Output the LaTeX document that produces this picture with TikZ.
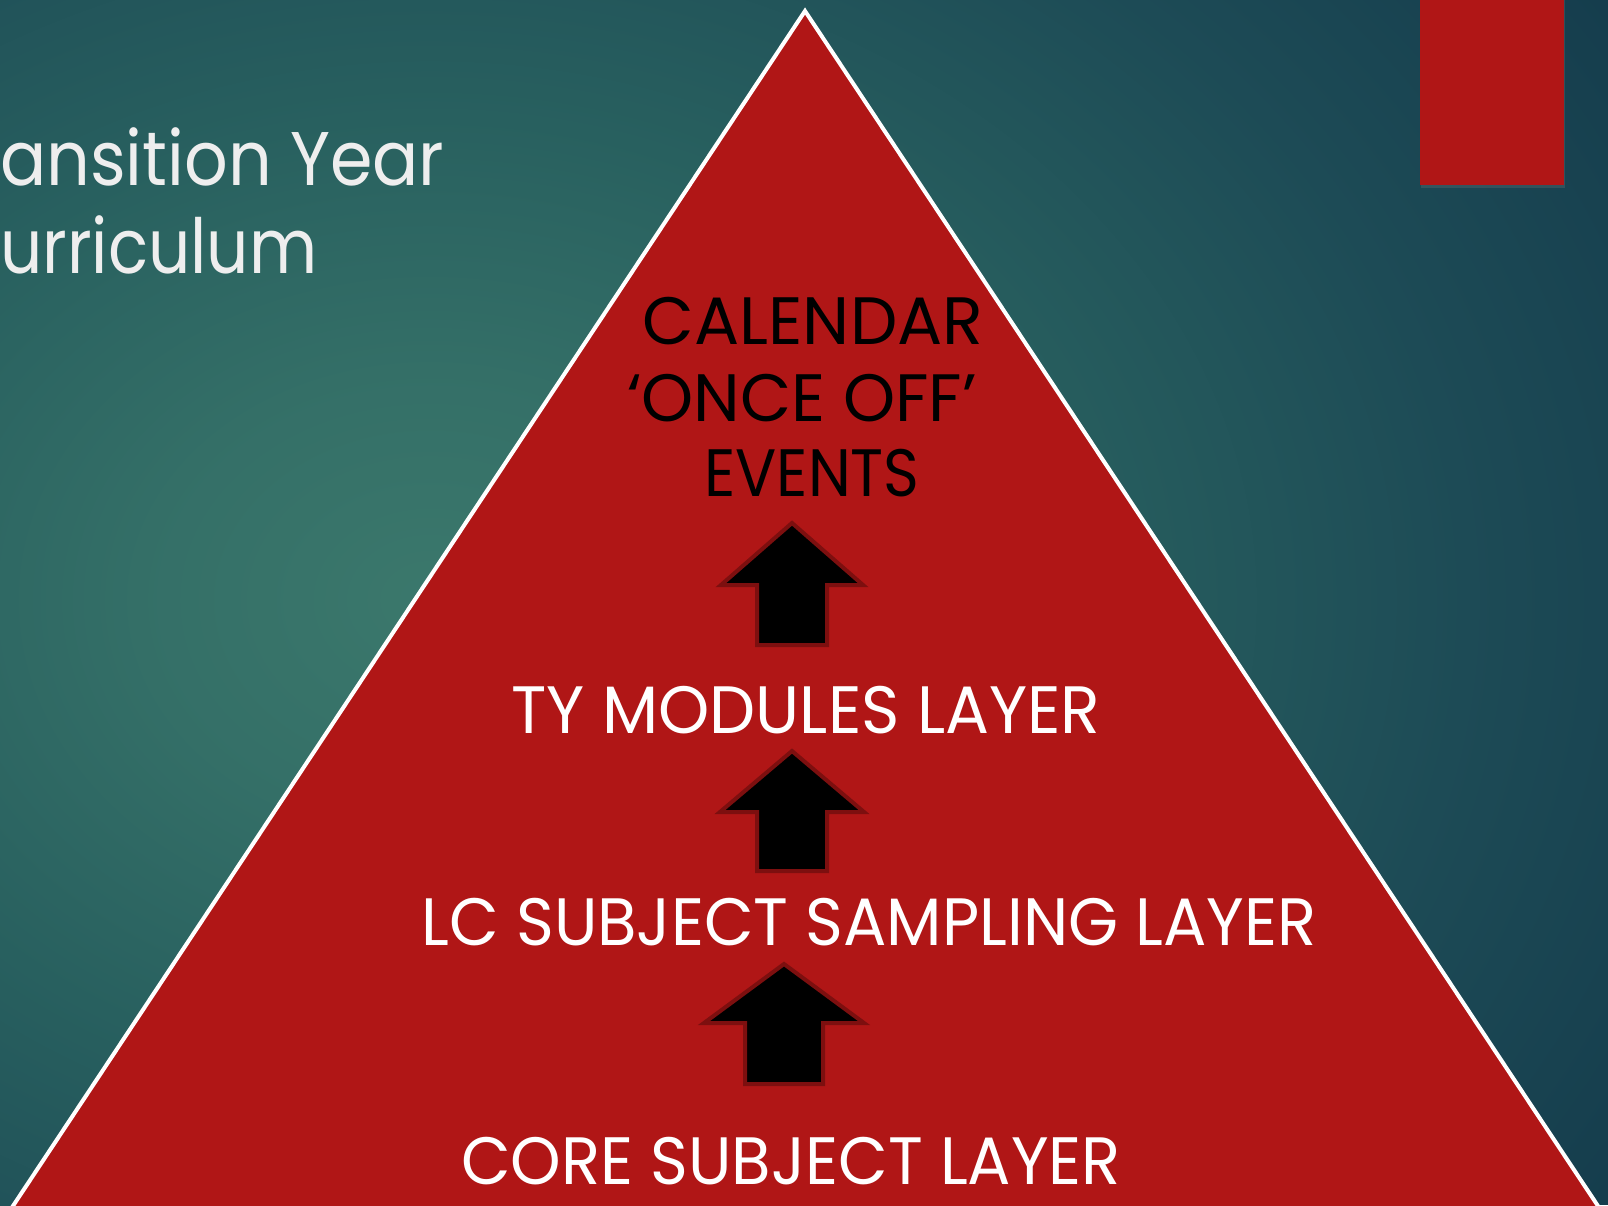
\documentclass[tikz,border=0pt]{standalone}
\usepackage{fontspec}
\setmainfont{Poppins}
\usetikzlibrary{shadows}
\definecolor{pyred}{HTML}{B01616}
\definecolor{arrowedge}{HTML}{7D0F0F}
\definecolor{titlegray}{HTML}{EEEEEE}
\definecolor{bgdark}{HTML}{153D4D}
\definecolor{bgdeep}{HTML}{1D4B56}
\definecolor{bgmid}{HTML}{28605F}
\definecolor{bglight}{HTML}{3B786C}
\pgfdeclareradialshading{bgshade}{\pgfpoint{0bp}{0bp}}{color(0bp)=(bglight); color(5bp)=(bglight!65!bgmid); color(11bp)=(bgmid); color(18.5bp)=(bgdeep); color(25bp)=(bgdark); color(50bp)=(bgdark)}
\tikzset{
  layertext/.style={anchor=base, inner sep=0pt, font=\fontsize{67}{67}\selectfont},
  titletext/.style={anchor=base west, inner sep=0pt, text=titlegray, font=\fontsize{76}{76}\selectfont},
  blockarrow/.style={fill=black, draw=arrowedge, line width=4pt, line join=miter},
}
\newcommand\uparrowshape[6]{% cx, tip, headbase, bottom, headhalf, shafthalf
  \draw[blockarrow] (#1,#2) -- ({#1+#5},#3) -- ({#1+#6},#3) -- ({#1+#6},#4) -- ({#1-#6},#4) -- ({#1-#6},#3) -- ({#1-#5},#3) -- cycle;}
\begin{document}
\begin{tikzpicture}[x=1pt,y=-1pt]
\useasboundingbox (0,0) rectangle (1608,1205);
\begin{scope}
\clip (0,0) rectangle (1608,1205);
\fill[bgdark] (0,0) rectangle (1608,1205);
\shade[shading=bgshade] (430,600) ellipse[x radius=1400, y radius=1100];
% title
\node[titletext, xscale=0.9] (title1) at (0,185) {ansition Year};
\node[titletext, xscale=0.87] (title2) at (0,273) {urriculum};
% red rectangle
\fill[pyred, drop shadow={shadow xshift=1pt, shadow yshift=-3pt, opacity=0.25}] (1420,-20) rectangle (1564,185);
% pyramid
\draw[white, line width=4pt, fill=pyred, line join=miter] (805,11) -- (1667,1310) -- (-56,1310) -- cycle;
% arrows
\uparrowshape{792}{523}{585}{645}{71}{35}
\uparrowshape{792}{751}{812}{871}{72}{35}
\uparrowshape{784}{964}{1023}{1084}{80}{39}
% layer texts
\node[layertext, text=black] (cal1) at (813,344) {CALENDAR};
\node[layertext, text=black, xscale=0.99] (cal2) at (802,421) {‘ONCE OFF’};
\node[layertext, text=black, xscale=0.91] (cal3) at (812,496) {EVENTS};
\node[layertext, text=white, xscale=0.973] (ty) at (806,733) {TY MODULES LAYER};
\node[layertext, text=white, xscale=0.96] (lc) at (869,945) {LC SUBJECT SAMPLING LAYER};
\node[layertext, text=white, xscale=0.96] (core) at (791,1184) {CORE SUBJECT LAYER};
\end{scope}
\end{tikzpicture}
\end{document}
